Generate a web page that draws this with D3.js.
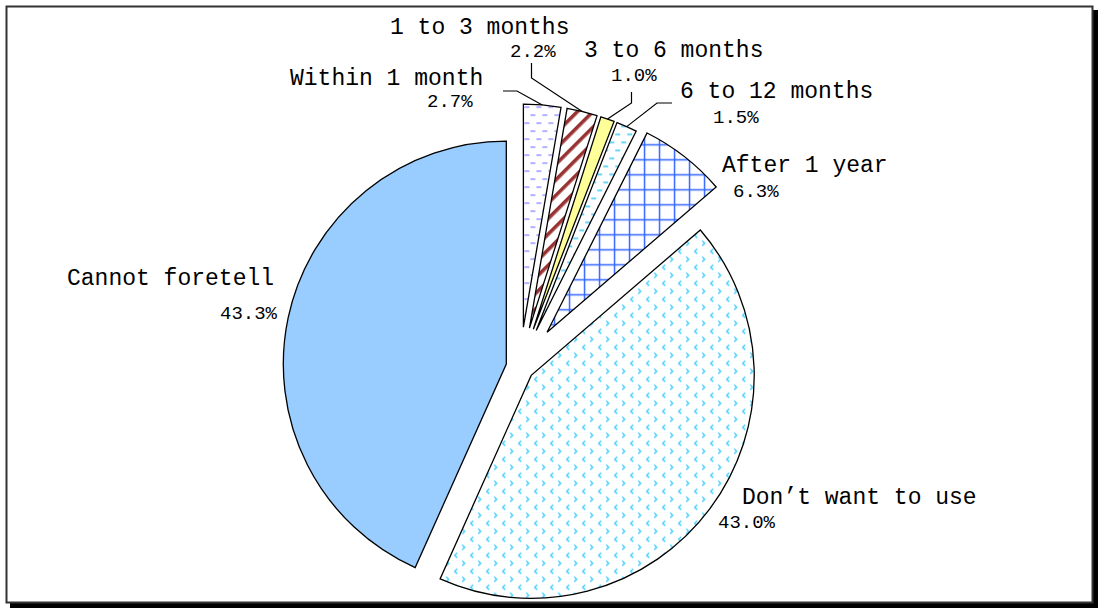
<!DOCTYPE html>
<html>
<head>
<meta charset="utf-8">
<script src="https://cdn.jsdelivr.net/npm/d3@7"></script>
<style>
  html, body { margin: 0; padding: 0; background: #fff; }
  svg { display: block; }
  text { font-family: "Liberation Mono", "DejaVu Sans Mono", monospace; fill: #000; }
</style>
</head>
<body>
<svg id="chart" width="1098" height="608"></svg>
<script>
// ---- data ----
const categories = ["Within 1 month", "1 to 3 months", "3 to 6 months", "6 to 12 months", "After 1 year", "Don\u2019t want to use", "Cannot foretell"];
const values = [2.7, 2.2, 1.0, 1.5, 6.3, 43.0, 43.3];
const percentLabels = ["2.7%", "2.2%", "1.0%", "1.5%", "6.3%", "43.0%", "43.3%"];

// ---- layout / style (not data) ----
const center = [520, 367];
const radius = 223;
const explode = [40, 40, 40, 40, 44, 14, 14];
const fills = ["url(#pDashPurple)", "url(#pStripeRed)", "#FFFF99", "url(#pDashCyan)", "url(#pGridBlue)", "url(#pChevron)", "#99CCFF"];
// label anchors (left x, baseline y) for name and percentage
const namePos = [[290, 85], [390, 34], [584, 57], [680, 98], [722, 172], [742, 504], [67, 285]];
const pctPos = [[427, 107], [510, 57], [611, 81], [713, 123], [733, 197], [718, 528], [220, 319]];
// leader line start & elbow (null = no leader)
const leaders = [
  [[503, 91], [517, 91]],
  [[531.5, 63], [531.5, 78]],
  [[631.5, 92], [631.5, 103]],
  [[672, 103], [657, 103]],
  null, null, null
];

const svg = d3.select("#chart");
const defs = svg.append("defs");

function pat(id, w, h, build, transform) {
  const p = defs.append("pattern").attr("id", id).attr("patternUnits", "userSpaceOnUse")
    .attr("width", w).attr("height", h);
  if (transform) p.attr("patternTransform", transform);
  p.append("rect").attr("width", w).attr("height", h).attr("fill", "#fff");
  build(p);
}
pat("pDashPurple", 12, 16, p => {
  p.append("path").attr("d", "M1,4H6M7,12H12").attr("stroke", "#9999FF").attr("stroke-width", 1.4);
});
pat("pDashCyan", 12, 16, p => {
  p.append("path").attr("d", "M1,4H6M7,12H12").attr("stroke", "#33CCFF").attr("stroke-width", 1.4);
});
pat("pStripeRed", 11, 11, p => {
  p.append("rect").attr("x", 0).attr("y", 0).attr("width", 3.6).attr("height", 11).attr("fill", "#993333");
}, "rotate(45)");
pat("pGridBlue", 15, 15, p => {
  p.append("path").attr("d", "M7.5,0V15M0,7.5H15").attr("stroke", "#3366FF").attr("stroke-width", 1.5);
});
pat("pChevron", 16, 16, p => {
  p.append("path").attr("d", "M6,1.5L3.5,4L6,6.5M11,9.5L13.5,12L11,14.5")
    .attr("stroke", "#33CCFF").attr("stroke-width", 1.3).attr("fill", "none");
});

// frame
svg.append("rect").attr("x", 10).attr("y", 603).attr("width", 1088).attr("height", 5).attr("fill", "#000");
svg.append("rect").attr("x", 1093).attr("y", 10).attr("width", 5).attr("height", 598).attr("fill", "#000");
svg.append("rect").attr("x", 6.5).attr("y", 6.5).attr("width", 1086).attr("height", 596)
  .attr("fill", "none").attr("stroke", "#333").attr("stroke-width", 2);

// pie
const rows = categories.map((c, i) => ({ cat: c, value: values[i], pct: percentLabels[i], i }));
const pie = d3.pie().value(d => d.value).sort(null).startAngle(0).endAngle(2 * Math.PI);
const arcs = pie(rows);
const arcGen = d3.arc().innerRadius(0).outerRadius(radius);

const g = svg.append("g").attr("transform", `translate(${center[0]},${center[1]})`);
g.selectAll("path.slice").data(arcs).join("path")
  .attr("class", "slice")
  .attr("transform", d => {
    const m = (d.startAngle + d.endAngle) / 2, e = explode[d.data.i];
    return `translate(${e * Math.sin(m)},${-e * Math.cos(m)})`;
  })
  .attr("d", arcGen)
  .attr("fill", d => fills[d.data.i])
  .attr("stroke", "#000").attr("stroke-width", 1.3).attr("stroke-linejoin", "miter");

// leader lines
arcs.forEach(d => {
  const L = leaders[d.data.i];
  if (!L) return;
  const m = (d.startAngle + d.endAngle) / 2, e = explode[d.data.i];
  const ex = center[0] + (e + radius) * Math.sin(m);
  const ey = center[1] - (e + radius) * Math.cos(m);
  svg.append("path")
    .attr("d", d3.line()([L[0], L[1], [ex, ey]]))
    .attr("fill", "none").attr("stroke", "#000").attr("stroke-width", 1.2);
});

// labels
svg.selectAll("text.name").data(rows).join("text")
  .attr("class", "name")
  .attr("x", d => namePos[d.i][0]).attr("y", d => namePos[d.i][1])
  .attr("font-size", 23)
  .text(d => d.cat);
svg.selectAll("text.pct").data(rows).join("text")
  .attr("class", "pct")
  .attr("x", d => pctPos[d.i][0]).attr("y", d => pctPos[d.i][1])
  .attr("font-size", 19)
  .text(d => d.pct);
</script>
</body>
</html>
